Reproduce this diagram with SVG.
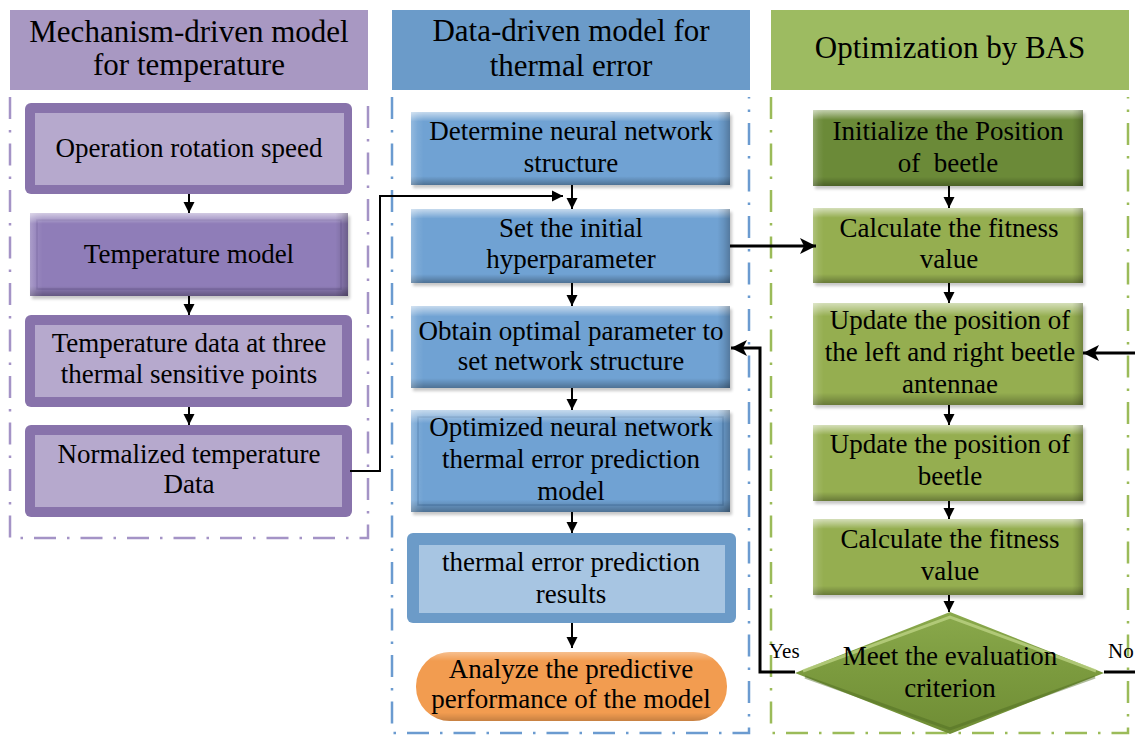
<svg xmlns="http://www.w3.org/2000/svg" width="1135" height="735" viewBox="0 0 1135 735">
  <defs>
    <style>
      .t { font-family: "Liberation Serif", "Times New Roman", serif; font-size: 27px; fill: #000; text-anchor: middle; white-space: pre; }
      .h { font-size: 31px; }
      .lbl { font-size: 21px; text-anchor: start; }
      .frame { fill: none; stroke-width: 2.5; stroke-dasharray: 22 11 2.5 11; }
      .c { fill: none; stroke: #000; stroke-width: 2; }
      .ct { fill: none; stroke: #000; stroke-width: 3; }
      .shadow { fill: #000; opacity: 0.22; filter: url(#blur); }
      .bv { fill: url(#bevV); }
      .bh { fill: url(#bevH); }
      .blue { fill: #70a2d3; }
      .green { fill: #95ae50; }
      .olive { fill: #6b8a38; }
      .violet { fill: #8f7db8; }
    </style>
    <linearGradient id="bevV" x1="0" y1="0" x2="0" y2="1">
      <stop offset="0" stop-color="#fff" stop-opacity="0.6"/>
      <stop offset="0.07" stop-color="#fff" stop-opacity="0.28"/>
      <stop offset="0.13" stop-color="#fff" stop-opacity="0"/>
      <stop offset="0.88" stop-color="#000" stop-opacity="0"/>
      <stop offset="0.93" stop-color="#000" stop-opacity="0.12"/>
      <stop offset="1" stop-color="#000" stop-opacity="0.3"/>
    </linearGradient>
    <linearGradient id="bevH" x1="0" y1="0" x2="1" y2="0">
      <stop offset="0" stop-color="#fff" stop-opacity="0.25"/>
      <stop offset="0.02" stop-color="#fff" stop-opacity="0.08"/>
      <stop offset="0.04" stop-color="#fff" stop-opacity="0"/>
      <stop offset="0.96" stop-color="#000" stop-opacity="0"/>
      <stop offset="0.98" stop-color="#000" stop-opacity="0.1"/>
      <stop offset="1" stop-color="#000" stop-opacity="0.25"/>
    </linearGradient>
    <linearGradient id="dia" x1="0" y1="0" x2="0" y2="1">
      <stop offset="0" stop-color="#8aa94c"/>
      <stop offset="0.5" stop-color="#7b9a3e"/>
      <stop offset="1" stop-color="#6f8d35"/>
    </linearGradient>
    <filter id="blur" x="-5%" y="-10%" width="115%" height="130%">
      <feGaussianBlur stdDeviation="1.5"/>
    </filter>
    <marker id="ah" viewBox="0 0 10 10" refX="10" refY="5" markerWidth="11" markerHeight="12" markerUnits="userSpaceOnUse" orient="auto">
      <path d="M0,0 L10,5 L0,10 z" fill="#000"/>
    </marker>
    <marker id="ahL" viewBox="0 0 10 10" refX="10" refY="5" markerWidth="16" markerHeight="16" markerUnits="userSpaceOnUse" orient="auto">
      <path d="M0,0 L10,5 L0,10 L2.5,5 z" fill="#000"/>
    </marker>
  </defs>

  <rect width="1135" height="735" fill="#fff"/>

  <!-- column frames and headers -->
  <g id="lane-mechanism">
    <rect x="10" y="10" width="358" height="80" fill="#a898c2"/>
    <text class="t h" x="189" y="42">Mechanism-driven model</text>
    <text class="t h" x="189" y="75">for temperature</text>
    <path class="frame" stroke="#a493c6" d="M10,97 V538 H368 V97"/>
  </g>
  <g id="lane-data">
    <rect x="392" y="10" width="358" height="80" fill="#6b9bc9"/>
    <text class="t h" x="571" y="41">Data-driven model for</text>
    <text class="t h" x="571" y="76">thermal error</text>
    <path class="frame" stroke="#6b9bd0" d="M392,97 V733 H749 V97"/>
  </g>
  <g id="lane-bas">
    <rect x="771" y="10" width="358" height="80" fill="#9dbb61"/>
    <text class="t h" x="950" y="58">Optimization by BAS</text>
    <path class="frame" stroke="#9bbb59" d="M771,97 V733 H1128 V97"/>
  </g>

  <!-- mechanism-driven column -->
  <g id="n-speed">
    <rect x="25" y="103" width="327" height="91" rx="6" fill="#8873ab"/>
    <rect x="35" y="113" width="309" height="72" fill="#b6a9cd"/>
    <text class="t" x="189" y="157">Operation rotation speed</text>
  </g>
  <g id="n-tmodel">
    <rect class="shadow" x="32" y="216" width="318" height="83"/>
    <rect class="violet" x="30" y="213" width="318" height="83"/>
    <rect x="37" y="220" width="304" height="69" fill="none" stroke="#6f5e99" stroke-opacity="0.5" stroke-width="1.5"/>
    <rect class="bv" x="30" y="213" width="318" height="83"/>
    <rect class="bh" x="30" y="213" width="318" height="83"/>
    <text class="t" x="189" y="263">Temperature model</text>
  </g>
  <g id="n-tdata">
    <rect x="25" y="315" width="327" height="92" rx="6" fill="#8873ab"/>
    <rect x="35" y="325" width="307" height="72" fill="#b6a9cd"/>
    <text class="t" x="189" y="352">Temperature data at three</text>
    <text class="t" x="189" y="383">thermal sensitive points</text>
  </g>
  <g id="n-norm">
    <rect x="25" y="425" width="327" height="92" rx="6" fill="#8873ab"/>
    <rect x="35" y="435" width="307" height="72" fill="#b6a9cd"/>
    <text class="t" x="189" y="463">Normalized temperature</text>
    <text class="t" x="189" y="493">Data</text>
  </g>

  <!-- data-driven column -->
  <g id="n-determine">
    <rect class="shadow" x="413" y="115" width="319" height="73"/>
    <rect class="blue" x="411" y="112" width="319" height="73"/>
    <rect class="bv" x="411" y="112" width="319" height="73"/>
    <rect class="bh" x="411" y="112" width="319" height="73"/>
    <text class="t" x="571" y="140">Determine neural network</text>
    <text class="t" x="571" y="172">structure</text>
  </g>
  <g id="n-init-hyper">
    <rect class="shadow" x="413" y="212" width="319" height="74"/>
    <rect class="blue" x="411" y="209" width="319" height="74"/>
    <rect class="bv" x="411" y="209" width="319" height="74"/>
    <rect class="bh" x="411" y="209" width="319" height="74"/>
    <text class="t" x="571" y="237">Set the initial</text>
    <text class="t" x="571" y="268">hyperparameter</text>
  </g>
  <g id="n-obtain">
    <rect class="shadow" x="413" y="309" width="319" height="82"/>
    <rect class="blue" x="411" y="306" width="319" height="82"/>
    <rect class="bv" x="411" y="306" width="319" height="82"/>
    <rect class="bh" x="411" y="306" width="319" height="82"/>
    <text class="t" x="571" y="340">Obtain optimal parameter to</text>
    <text class="t" x="571" y="370">set network structure</text>
  </g>
  <g id="n-optimized">
    <rect class="shadow" x="413" y="413" width="319" height="102"/>
    <rect class="blue" x="411" y="410" width="319" height="102"/>
    <rect x="418" y="417" width="305" height="88" fill="none" stroke="#3f6e9e" stroke-opacity="0.45" stroke-width="1.5"/>
    <rect class="bv" x="411" y="410" width="319" height="102"/>
    <rect class="bh" x="411" y="410" width="319" height="102"/>
    <text class="t" x="571" y="436">Optimized neural network</text>
    <text class="t" x="571" y="468">thermal error prediction</text>
    <text class="t" x="571" y="500">model</text>
  </g>
  <g id="n-results">
    <rect x="407" y="533" width="329" height="90" rx="6" fill="#6c9bc8"/>
    <rect x="419" y="545" width="306" height="68" fill="#a7c5e2"/>
    <text class="t" x="571" y="571">thermal error prediction</text>
    <text class="t" x="571" y="603">results</text>
  </g>
  <g id="n-analyze">
    <rect x="416" y="652" width="311" height="69" rx="34" fill="#f29c50"/>
    <rect x="416" y="652" width="311" height="69" rx="34" fill="url(#bevV)" opacity="0.6"/>
    <text class="t" x="571" y="678">Analyze the predictive</text>
    <text class="t" x="571" y="708">performance of the model</text>
  </g>

  <!-- BAS column -->
  <g id="n-beetle-init">
    <rect class="shadow" x="815" y="113" width="270" height="76"/>
    <rect class="olive" x="813" y="110" width="270" height="76"/>
    <rect class="bv" x="813" y="110" width="270" height="76"/>
    <rect class="bh" x="813" y="110" width="270" height="76"/>
    <text class="t" x="948" y="140">Initialize the Position</text>
    <text class="t" x="948" y="172">of  beetle</text>
  </g>
  <g id="n-fitness-1">
    <rect class="shadow" x="815" y="211" width="270" height="75"/>
    <rect class="green" x="813" y="208" width="270" height="75"/>
    <rect class="bv" x="813" y="208" width="270" height="75"/>
    <rect class="bh" x="813" y="208" width="270" height="75"/>
    <text class="t" x="949" y="237">Calculate the fitness</text>
    <text class="t" x="949" y="268">value</text>
  </g>
  <g id="n-antennae">
    <rect class="shadow" x="815" y="306" width="270" height="102"/>
    <rect class="green" x="813" y="303" width="270" height="102"/>
    <rect class="bv" x="813" y="303" width="270" height="102"/>
    <rect class="bh" x="813" y="303" width="270" height="102"/>
    <text class="t" x="950" y="329">Update the position of</text>
    <text class="t" x="950" y="361">the left and right beetle</text>
    <text class="t" x="950" y="393">antennae</text>
  </g>
  <g id="n-beetle-update">
    <rect class="shadow" x="815" y="428" width="270" height="76"/>
    <rect class="green" x="813" y="425" width="270" height="76"/>
    <rect class="bv" x="813" y="425" width="270" height="76"/>
    <rect class="bh" x="813" y="425" width="270" height="76"/>
    <text class="t" x="950" y="453">Update the position of</text>
    <text class="t" x="950" y="485">beetle</text>
  </g>
  <g id="n-fitness-2">
    <rect class="shadow" x="815" y="522" width="270" height="76"/>
    <rect class="green" x="813" y="519" width="270" height="76"/>
    <rect class="bv" x="813" y="519" width="270" height="76"/>
    <rect class="bh" x="813" y="519" width="270" height="76"/>
    <text class="t" x="950" y="548">Calculate the fitness</text>
    <text class="t" x="950" y="580">value</text>
  </g>
  <g id="n-criterion">
    <polygon points="795,673 950,612 1104,673 950,734" fill="url(#dia)"/>
    <polyline points="803,671 950,617 1096,671" fill="none" stroke="#c3d88c" stroke-opacity="0.7" stroke-width="3"/>
    <polyline points="805,677 950,729 1095,677" fill="none" stroke="#4e6a22" stroke-opacity="0.45" stroke-width="3"/>
    <text class="t" x="950" y="665">Meet the evaluation</text>
    <text class="t" x="950" y="697">criterion</text>
  </g>

  <!-- connectors -->
  <g id="connectors">
    <line class="c" x1="189" y1="194" x2="189" y2="213" marker-end="url(#ah)"/>
    <line class="c" x1="189" y1="296" x2="189" y2="315" marker-end="url(#ah)"/>
    <line class="c" x1="189" y1="407" x2="189" y2="425" marker-end="url(#ah)"/>
    <polyline class="c" points="350,471 380,471 380,196 563,196" marker-end="url(#ah)"/>

    <line class="c" x1="572" y1="185" x2="572" y2="209" marker-end="url(#ah)"/>
    <line class="c" x1="572" y1="283" x2="572" y2="306" marker-end="url(#ah)"/>
    <line class="c" x1="572" y1="388" x2="572" y2="410" marker-end="url(#ah)"/>
    <line class="c" x1="572" y1="512" x2="572" y2="533" marker-end="url(#ah)"/>
    <line class="c" x1="572" y1="623" x2="572" y2="648" marker-end="url(#ah)"/>

    <line class="ct" x1="730" y1="246" x2="816" y2="246" marker-end="url(#ahL)"/>

    <line class="c" x1="949" y1="186" x2="949" y2="208" marker-end="url(#ah)"/>
    <line class="c" x1="949" y1="283" x2="949" y2="303" marker-end="url(#ah)"/>
    <line class="c" x1="949" y1="405" x2="949" y2="425" marker-end="url(#ah)"/>
    <line class="c" x1="949" y1="501" x2="949" y2="519" marker-end="url(#ah)"/>
    <line class="c" x1="949" y1="595" x2="949" y2="612" marker-end="url(#ah)"/>

    <polyline class="ct" points="795,672 760,672 760,348 731,348" marker-end="url(#ahL)"/>
    <polyline class="ct" points="1104,672 1140,672 1140,353 1083,353" marker-end="url(#ahL)"/>

    <text class="t lbl" x="769" y="658">Yes</text>
    <text class="t lbl" x="1108" y="658">No</text>
  </g>
</svg>
